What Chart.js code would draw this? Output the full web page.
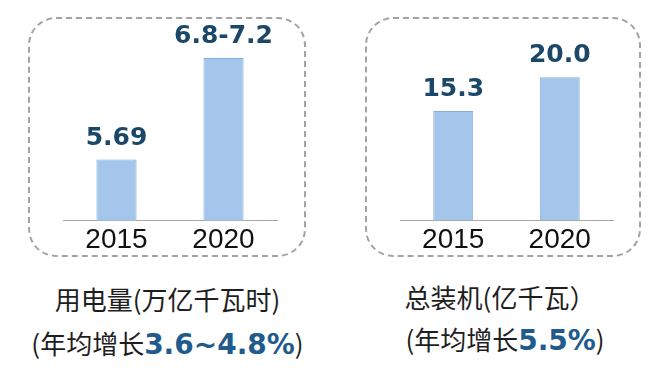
<!DOCTYPE html>
<html>
<head>
<meta charset="utf-8">
<script src="https://cdn.jsdelivr.net/npm/chart.js@4"></script>
<style>
  body { margin: 0; background: #fff; width: 648px; height: 374px; position: relative; overflow: hidden; font-family: "Noto Sans CJK SC", "Noto Sans", sans-serif; }
  .box { position: absolute; border: 2px dashed #a3a3a3; border-radius: 28px; box-sizing: border-box; }
  .wrap { position: absolute; }
  .cap { position: absolute; text-align: center; color: #1e1e1e; font-size: 26px; line-height: 1; white-space: nowrap; }
  .num { font-family: "DejaVu Sans", sans-serif; font-weight: bold; color: #1f5b8c; font-size: 28px; }
</style>
</head>
<body>
<div class="box" style="left:28px; top:17px; width:278px; height:240px;"></div>
<div class="box" style="left:365px; top:17px; width:276px; height:240px;"></div>

<div class="wrap" style="left:55px; top:20px; width:230px; height:240px;"><canvas id="powerChart"></canvas></div>
<div class="wrap" style="left:392px; top:20px; width:229px; height:240px;"><canvas id="capacityChart"></canvas></div>

<div class="cap" style="left:0; width:335px; top:286px;">用电量(万亿千瓦时)</div>
<div class="cap" style="left:0; width:335px; top:330px;">(年均增长<span class="num">3.6~4.8%</span>)</div>
<div class="cap" style="left:400px; width:200px; top:284px;">总装机(亿千瓦）</div>
<div class="cap" style="left:400px; width:210px; top:326px;">(年均增长<span class="num">5.5%</span>)</div>

<script>
// datos
const years = ['2015', '2020'];
const powerValues = [5.69, 7.0];          // 2020: 6.8-7.2, punto medio
const powerLabels = ['5.69', '6.8-7.2'];
const capacityValues = [15.3, 20.0];
const capacityLabels = ['15.3', '20.0'];

// etiquetas encima de las barras
const valueLabels = {
    id: 'valueLabels',
    afterDatasetsDraw(chart) {
        const ctx = chart.ctx;
        const texts = chart.options.plugins.valueLabels.texts;
        ctx.save();
        ctx.font = 'bold 25px "DejaVu Sans"';
        ctx.fillStyle = '#1b4868';
        ctx.textAlign = 'center';
        ctx.textBaseline = 'bottom';
        chart.getDatasetMeta(0).data.forEach((bar, i) => {
            ctx.fillText(texts[i], bar.x, bar.y - 9);
        });
        ctx.restore();
    }
};

function makeChart(id, values, texts, min, max) {
    return new Chart(document.getElementById(id), {
        type: 'bar',
        data: {
            labels: years,
            datasets: [{
                data: values,
                backgroundColor: '#a4c6ea',
                borderColor: '#83ade0',
                borderWidth: 1,
                barPercentage: 0.375,
                categoryPercentage: 1
            }]
        },
        options: {
            responsive: true,
            maintainAspectRatio: false,
            animation: false,
            layout: { padding: { left: 8, right: 8, top: 10, bottom: 0 } },
            scales: {
                x: {
                    grid: { display: false, drawTicks: false },
                    border: { color: '#a9a9a9', width: 1 },
                    ticks: { color: '#111', padding: 3, font: { size: 28, family: 'Liberation Sans' } }
                },
                y: { display: false, min: min, max: max }
            },
            plugins: {
                legend: { display: false },
                tooltip: { enabled: false },
                valueLabels: { texts: texts }
            }
        },
        plugins: [valueLabels]
    });
}

makeChart('powerChart', powerValues, powerLabels, 4.907, 7.359);
makeChart('capacityChart', capacityValues, capacityLabels, 0, 26.6);
</script>
</body>
</html>
